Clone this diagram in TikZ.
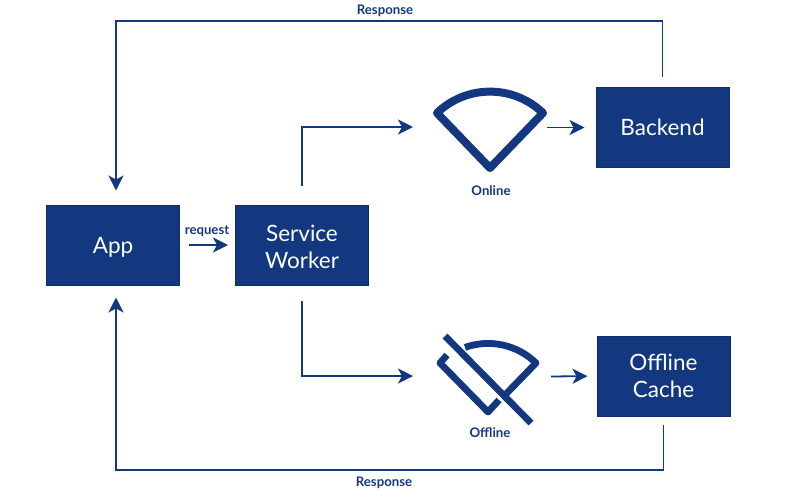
\documentclass[tikz,border=0pt]{standalone}
\usepackage{fontspec}
\setmainfont{Lato}
\usetikzlibrary{arrows.meta}
\definecolor{navy}{HTML}{14387F}
\definecolor{navyline}{HTML}{0F2D66}
\begin{document}
\begin{tikzpicture}[x=1pt,y=-1pt,
  box/.style={draw=navyline,line width=1pt,fill=navy,text=white,minimum width=133pt,minimum height=80pt,
    align=center,font=\fontsize{22.5}{27}\selectfont,inner sep=0pt},
  tag/.style={text=navy,font=\fontsize{13.2}{15}\selectfont\bfseries,inner sep=0pt},
  flow/.style={navy,line width=1.8pt,-{Stealth[length=15pt,width=15pt,inset=4pt]}},
  wedge/.style={navy,line width=8pt,line join=round},
  slash/.style={navy,line width=6.8pt,line join=round}]
\useasboundingbox (0,0) rectangle (800,499);

\node[box,text depth=0pt] (app) at (113,245) {App};
\node[box] (worker) at (302,245) {\rule{0pt}{19.5pt}Service\\Worker};
\node[box] (backend) at (662.5,127.5) {Backend};
\node[box] (cache) at (663.5,376) {Offline\\Cache};

\node[tag] (request) at (207,231) {request};
\node[tag] (online) at (491,190.5) {Online};
\node[tag] (offline) at (490,432.5) {Offline};
\node[tag] (restop) at (385,11) {Response};
\node[tag] (resbottom) at (384,482.5) {Response};

\coordinate (onlinein) at (413,127);
\coordinate (onlineout) at (547,127.5);
\coordinate (offlinein) at (413,376);
\coordinate (offlineout) at (551,376.5);
\coordinate (topline) at (116,21);
\coordinate (bottomline) at (116,470);

% online
\draw[wedge] (490,168) -- (437,113) .. controls (466.6,84.5) and (513.4,84.5) .. (543,113) -- cycle;

% offline
\draw[slash] (447,355) -- (440,363) -- (488,412) -- (499,400);
\draw[slash] (465,347.4) .. controls (489.7,338.6) and (517.3,344.7) .. (536,363) -- (505,395);
\draw[slash] (445,336) -- (531,423);

\draw[flow,shorten <=9pt,shorten >=7pt] (app) -- (worker);
\draw[flow,shorten <=19pt] (worker.north) |- (onlinein);
\draw[flow,shorten <=15pt] (worker.south) |- (offlinein);
\draw[flow,shorten >=11pt] (onlineout) -- (backend.west);
\draw[flow,shorten >=9pt] (offlineout) -- (cache.west);
\draw[flow,shorten <=10pt,shorten >=14pt] (backend.north) |- (topline) -- ([xshift=3pt]app.north);
\draw[flow,shorten <=8pt,shorten >=12pt] (cache.south) |- (bottomline) -- ([xshift=3pt]app.south);

\end{tikzpicture}
\end{document}
